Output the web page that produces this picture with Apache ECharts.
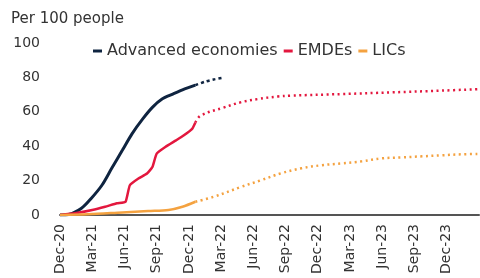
<!DOCTYPE html>
<html>
<head>
<meta charset="utf-8">
<script src="https://cdn.jsdelivr.net/npm/echarts@6/dist/echarts.min.js"></script>
<style>html,body{margin:0;padding:0;background:#fff;}#c{width:480px;height:278px;}</style>
</head>
<body>
<div id="c"></div>
<script>
// Tick labels (one every 3 months, month index 0 = Dec-20)
var tickLabels = ['Dec-20','Mar-21','Jun-21','Sep-21','Dec-21','Mar-22','Jun-22','Sep-22','Dec-22','Mar-23','Jun-23','Sep-23','Dec-23'];
var yTicks = [0, 20, 40, 60, 80, 100];

// Advanced economies (months since Dec-20, per 100 people)
var advMonths = [0, 0.8, 2.0, 2.9, 3.9, 4.8, 5.8, 6.7, 7.7, 8.6, 9.5, 10.5, 11.4, 12.6];
var advValues = [0, 0.3, 3.9, 9.6, 17.3, 27, 37.6, 47.2, 55.9, 62.6, 67.4, 70.3, 72.8, 75.5];
var advFcMonths = [12.6, 13.5, 14.3, 15.2];
var advFcValues = [75.5, 77.5, 78.8, 79.8];

// EMDEs
var emdeMonths = [0, 1.4, 3.0, 4.2, 5.3, 6.1, 6.5, 7.3, 8.1, 8.6, 9.0, 9.8, 10.8, 11.5, 12.3, 12.6];
var emdeValues = [0, 1, 2.9, 4.8, 6.8, 7.7, 17.3, 21.2, 24.1, 27.9, 35.7, 39.5, 43.4, 46.2, 50.1, 53.8];
var emdeFcMonths = [12.6, 13.1, 15.2, 16.8, 18.4, 20.3, 21.5, 26.2, 30.9, 35.5, 39];
var emdeFcValues = [53.8, 57.8, 62.4, 65.5, 67.4, 68.9, 69.4, 70.3, 71.3, 72.3, 73.2];

// LICs
var licMonths = [0, 2.6, 5.8, 8.2, 10.1, 11.4, 12.6];
var licValues = [0, 0.4, 1.5, 2.3, 2.9, 4.8, 7.7];
var licFcMonths = [12.6, 14.3, 16.8, 18.7, 20.6, 22.5, 24.3, 26.2, 28.1, 29.9, 31.8, 33.7, 35.5, 37.4, 39];
var licFcValues = [7.7, 10.6, 16.2, 20.2, 24.3, 27.2, 28.9, 30, 31.2, 32.9, 33.5, 34.1, 34.7, 35.3, 35.5];

function pairs(xs, ys) { return xs.map(function (x, i) { return [x, ys[i]]; }); }

var NAVY = '#0f2440', RED = '#e3173e', ORANGE = '#f4a240';
var FONT = 'DejaVu Sans';

var chart = echarts.init(document.getElementById('c'), null, {renderer: 'canvas'});
chart.setOption({
  animation: false,
  backgroundColor: '#ffffff',
  title: {
    text: 'Per 100 people', left: 6, top: 7,
    textStyle: {fontFamily: FONT, fontSize: 15, fontWeight: 'normal', color: '#333'}
  },
  legend: {
    data: ['Advanced economies', 'EMDEs', 'LICs'],
    left: 88, top: 38, itemWidth: 9, itemHeight: 3, itemGap: 6, icon: 'rect',
    textStyle: {fontFamily: FONT, fontSize: 16, color: '#333'}
  },
  grid: {left: 60, right: 1, top: 43, bottom: 63, containLabel: false},
  xAxis: {
    type: 'value', min: 0, max: 39, interval: 3,
    axisLine: {show: true, lineStyle: {color: '#555', width: 2}},
    axisTick: {show: false},
    splitLine: {show: false},
    axisLabel: {
      rotate: 90, margin: 9, showMaxLabel: false,
      fontFamily: FONT, fontSize: 14, color: '#333',
      formatter: function (v) { var i = Math.round(v / 3); return tickLabels[i] || ''; }
    }
  },
  yAxis: {
    type: 'value', min: yTicks[0], max: yTicks[yTicks.length - 1], interval: 20,
    axisLine: {show: false}, axisTick: {show: false}, splitLine: {show: false},
    axisLabel: {margin: 20, fontFamily: FONT, fontSize: 14, color: '#333'}
  },
  series: [
    {name: 'Advanced economies', type: 'line', data: pairs(advMonths, advValues), smooth: 0.3, symbol: 'none',
     lineStyle: {color: NAVY, width: 3}, itemStyle: {color: NAVY}},
    {name: 'Advanced economies forecast', type: 'line', data: pairs(advFcMonths, advFcValues), smooth: 0.3, symbol: 'none',
     lineStyle: {color: NAVY, width: 2.5, type: [3, 3]}, itemStyle: {color: NAVY}},
    {name: 'EMDEs', type: 'line', data: pairs(emdeMonths, emdeValues), smooth: 0.15, symbol: 'none',
     lineStyle: {color: RED, width: 2.5}, itemStyle: {color: RED}},
    {name: 'EMDEs forecast', type: 'line', data: pairs(emdeFcMonths, emdeFcValues), smooth: 0.4, symbol: 'none',
     lineStyle: {color: RED, width: 2.5, type: [2, 3.5]}, itemStyle: {color: RED}},
    {name: 'LICs', type: 'line', data: pairs(licMonths, licValues), smooth: 0.3, symbol: 'none',
     lineStyle: {color: ORANGE, width: 2.5}, itemStyle: {color: ORANGE}},
    {name: 'LICs forecast', type: 'line', data: pairs(licFcMonths, licFcValues), smooth: 0.4, symbol: 'none',
     lineStyle: {color: ORANGE, width: 2.5, type: [2, 3.5]}, itemStyle: {color: ORANGE}}
  ]
});
</script>
</body>
</html>
